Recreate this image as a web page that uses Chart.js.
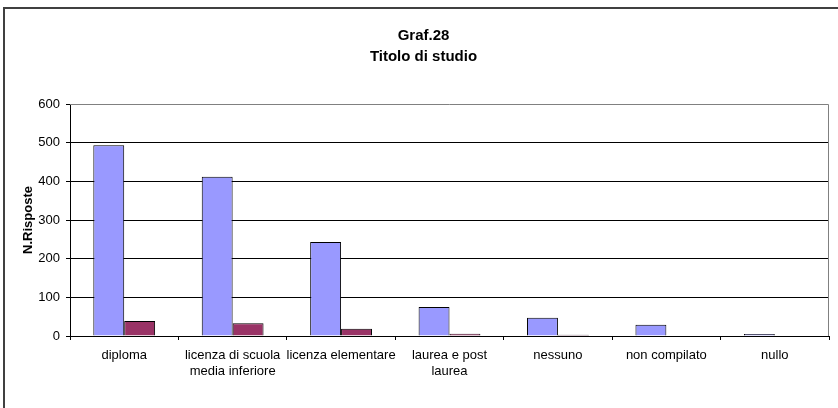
<!DOCTYPE html>
<html>
<head>
<meta charset="utf-8">
<script src="https://cdn.jsdelivr.net/npm/chart.js@4/dist/chart.umd.min.js"></script>
<style>
  html, body { margin: 0; padding: 0; background: #fff; }
  #wrap { width: 838px; height: 408px; }
</style>
</head>
<body>
<div id="wrap"><canvas id="graf28" width="838" height="408"></canvas></div>
<script>
// dati
const categorie = ['diploma', ['licenza di scuola', 'media inferiore'], 'licenza elementare', ['laurea e post', 'laurea'], 'nessuno', 'non compilato', 'nullo'];
const serieA = [493, 412, 243, 75, 47, 29, 5];
const serieB = [39, 33, 19, 6, 3, 1, 0];
const yTicks = [0, 100, 200, 300, 400, 500, 600];

const FONT = 'Arial, "Liberation Sans", sans-serif';

// cornice esterna + bordo grigio dell'area del grafico
const cornice = {
    id: 'cornice',
    beforeDraw(chart) {
        const c = chart.ctx;
        c.save();
        c.fillStyle = '#fff';
        c.fillRect(0, 0, chart.width, chart.height);
        c.strokeStyle = '#404040';
        c.lineWidth = 2;
        c.beginPath();
        c.moveTo(4, chart.height);
        c.lineTo(4, 8);
        c.lineTo(chart.width, 8);
        c.stroke();
        c.restore();
    },
    beforeDatasetsDraw(chart) {
        const a = chart.chartArea;
        const c = chart.ctx;
        c.save();
        c.strokeStyle = '#808080';
        c.lineWidth = 1;
        c.beginPath();
        c.moveTo(a.left, a.top + 0.5);
        c.lineTo(a.right - 0.5, a.top + 0.5);
        c.lineTo(a.right - 0.5, a.bottom);
        c.stroke();
        c.restore();
    }
};

new Chart(document.getElementById('graf28'), {
    type: 'bar',
    data: {
        labels: categorie,
        datasets: [
            { data: serieA, backgroundColor: '#9999FF', borderColor: '#000', borderWidth: 1 },
            { data: serieB, backgroundColor: '#993366', borderColor: '#000', borderWidth: 1 }
        ]
    },
    options: {
        responsive: false,
        devicePixelRatio: 1,
        animation: false,
        layout: { padding: { left: 18, right: 9, top: 0, bottom: 0 } },
        datasets: { bar: { categoryPercentage: 0.57, barPercentage: 1.0 } },
        plugins: {
            legend: { display: false },
            tooltip: { enabled: false },
            title: {
                display: true,
                text: ['Graf.28', 'Titolo di studio'],
                color: '#000',
                font: { family: FONT, size: 15, weight: 'bold', lineHeight: 1.4 },
                padding: { top: 25.5, bottom: 36.5 }
            }
        },
        scales: {
            x: {
                afterFit: s => { s.height = 72; },
                grid: { drawOnChartArea: false, tickLength: 4, color: '#000' },
                border: { color: '#000' },
                ticks: {
                    color: '#000', padding: 8, maxRotation: 0, autoSkip: false,
                    font: { family: FONT, size: 13, lineHeight: 1.2 }
                }
            },
            y: {
                min: 0, max: 600,
                afterFit: s => { s.width = 52; },
                afterBuildTicks: s => { s.ticks = yTicks.map(v => ({ value: v })); },
                grid: {
                    tickLength: 4,
                    color: ctx => (ctx.tick && ctx.tick.value === 600) ? 'rgba(0,0,0,0)' : '#000',
                    tickColor: '#000'
                },
                border: { color: '#000' },
                ticks: { color: '#000', padding: 6, font: { family: FONT, size: 13 } },
                title: {
                    display: true,
                    text: 'N.Risposte',
                    color: '#000',
                    font: { family: FONT, size: 13, weight: 'bold', lineHeight: 1.2 },
                    padding: { top: 3, bottom: 0 }
                }
            }
        }
    },
    plugins: [cornice]
});
</script>
</body>
</html>
